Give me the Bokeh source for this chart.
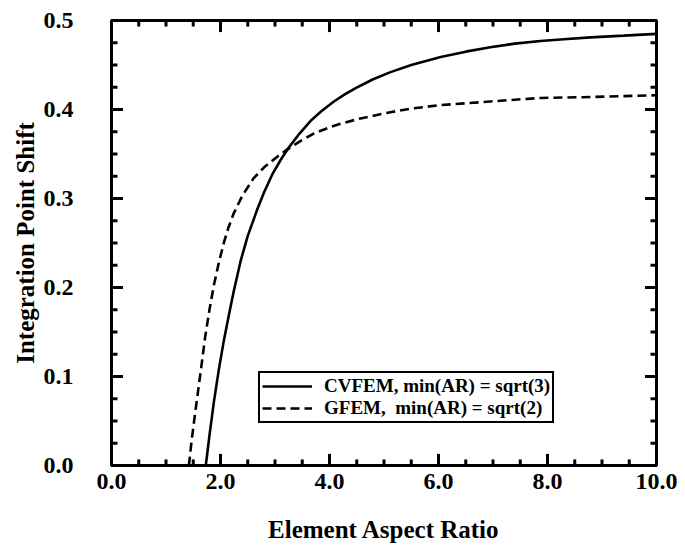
from bokeh.plotting import figure
from bokeh.models import Range1d, LinearAxis, FixedTicker, PrintfTickFormatter, Legend, LegendItem
from bokeh.embed import file_html
from bokeh.resources import INLINE

# Integration point shift versus element aspect ratio
cvfem_ar = [1.73, 1.80, 1.88, 1.97, 2.06, 2.15, 2.24, 2.37, 2.50, 2.67, 2.80, 2.95,
            3.10, 3.25, 3.45, 3.65, 3.85, 4.08, 4.28, 4.48, 4.80, 5.12, 5.50, 6.04, 6.50,
            6.95, 7.40, 7.87, 8.30, 8.79, 9.40, 10.0]
cvfem_shift = [0.000, 0.035, 0.072, 0.108, 0.140, 0.168, 0.195, 0.230, 0.258, 0.287, 0.307, 0.327,
               0.343, 0.357, 0.373, 0.387, 0.398, 0.409, 0.417, 0.424, 0.434, 0.442, 0.450, 0.459,
               0.465, 0.470, 0.474, 0.477, 0.479, 0.481, 0.483, 0.485]

gfem_ar = [1.42, 1.47, 1.52, 1.57, 1.65, 1.72, 1.80, 1.88, 1.97, 2.06, 2.15, 2.24,
           2.40, 2.61, 2.80, 3.00, 3.22, 3.45, 3.71, 4.00, 4.20, 4.57, 5.12, 5.50,
           6.04, 6.50, 6.95, 7.40, 7.87, 8.79, 9.40, 10.0]
gfem_shift = [0.000, 0.028, 0.052, 0.075, 0.112, 0.145, 0.176, 0.203, 0.228, 0.250, 0.268, 0.283,
              0.303, 0.323, 0.335, 0.345, 0.355, 0.364, 0.373, 0.380, 0.384, 0.390, 0.397, 0.401,
              0.405, 0.407, 0.409, 0.411, 0.413, 0.414, 0.415, 0.416]

x_major = [0, 2, 4, 6, 8, 10]
x_minor = [i * 0.5 for i in range(21)]
y_major = [0.0, 0.1, 0.2, 0.3, 0.4, 0.5]
y_minor = [i * 0.025 for i in range(21)]

FONT = "Liberation Serif"
X0, X1, Y0, Y1 = 0.0, 10.0, 0.0, 0.5

p = figure(width=685, height=546, output_backend="svg", toolbar_location=None,
           x_range=Range1d(X0, X1), y_range=Range1d(Y0, Y1),
           min_border_left=111, min_border_right=29, min_border_top=20, min_border_bottom=81,
           x_axis_label="Element Aspect Ratio", y_axis_label="Integration Point Shift")
p.xgrid.visible = False
p.ygrid.visible = False
p.outline_line_color = "black"
p.outline_line_width = 3
p.background_fill_color = "white"
p.border_fill_color = "white"

l1 = p.line(cvfem_ar, cvfem_shift, line_color="black", line_width=2.6)
l2 = p.line(gfem_ar, gfem_shift, line_color="black", line_width=2.6, line_dash="9 5")


def tick_paths(xs, ys, dx, dy):
    """Short inward strokes along the four frame edges (lengths in data units)."""
    px, py = [], []
    for x in xs:
        px += [[x, x], [x, x]]
        py += [[Y0, Y0 + dy], [Y1, Y1 - dy]]
    for y in ys:
        px += [[X0, X0 + dx], [X1, X1 - dx]]
        py += [[y, y], [y, y]]
    return px, py


# frame is about 54.5 px per x unit and 890 px per y unit
min_x, min_y = tick_paths(x_minor, y_minor, 0.11, 0.0068)
p.multi_line(min_x, min_y, line_color="black", line_width=3, level="overlay")
maj_x, maj_y = tick_paths(x_major, y_major, 0.21, 0.0130)
p.multi_line(maj_x, maj_y, line_color="black", line_width=3, level="overlay")


def style_axis(ax, major, fmt, show_labels):
    ax.ticker = FixedTicker(ticks=major, minor_ticks=[])
    ax.formatter = PrintfTickFormatter(format=fmt)
    ax.axis_line_color = "black"
    ax.axis_line_width = 3
    ax.major_tick_in = 0
    ax.major_tick_out = 0
    ax.minor_tick_in = 0
    ax.minor_tick_out = 0
    ax.major_label_text_font = FONT
    ax.major_label_text_font_style = "bold"
    ax.major_label_text_font_size = "24px"
    ax.major_label_text_color = "black"
    ax.axis_label_text_font = FONT
    ax.axis_label_text_font_style = "bold"
    ax.axis_label_text_font_size = "25px"
    ax.axis_label_text_color = "black"
    if not show_labels:
        ax.major_label_overrides = {t: "" for t in major}


xa = p.xaxis[0]
ya = p.yaxis[0]
style_axis(xa, x_major, "%.1f", True)
style_axis(ya, y_major, "%.1f", True)
xa.major_label_standoff = 8
xa.axis_label_standoff = 24
ya.major_label_standoff = 38
ya.axis_label_standoff = 2

top = LinearAxis()
right = LinearAxis()
style_axis(top, x_major, "%.1f", False)
style_axis(right, y_major, "%.1f", False)
p.add_layout(top, "above")
p.add_layout(right, "right")

legend = Legend(items=[
    LegendItem(label="CVFEM, min(AR) = sqrt(3)", renderers=[l1]),
    LegendItem(label="GFEM,  min(AR) = sqrt(2)", renderers=[l2]),
], location=(147, 42))
legend.label_text_font = FONT
legend.label_text_font_style = "bold"
legend.label_text_font_size = "19px"
legend.label_text_color = "black"
legend.border_line_color = "black"
legend.border_line_alpha = 1
legend.border_line_width = 2
legend.background_fill_alpha = 1
legend.padding = 2
legend.spacing = 0
legend.margin = 0
legend.glyph_width = 50
legend.glyph_height = 20
legend.label_height = 20
legend.label_standoff = 12
p.add_layout(legend, "center")

open("out.html", "w").write(file_html(p, INLINE))
